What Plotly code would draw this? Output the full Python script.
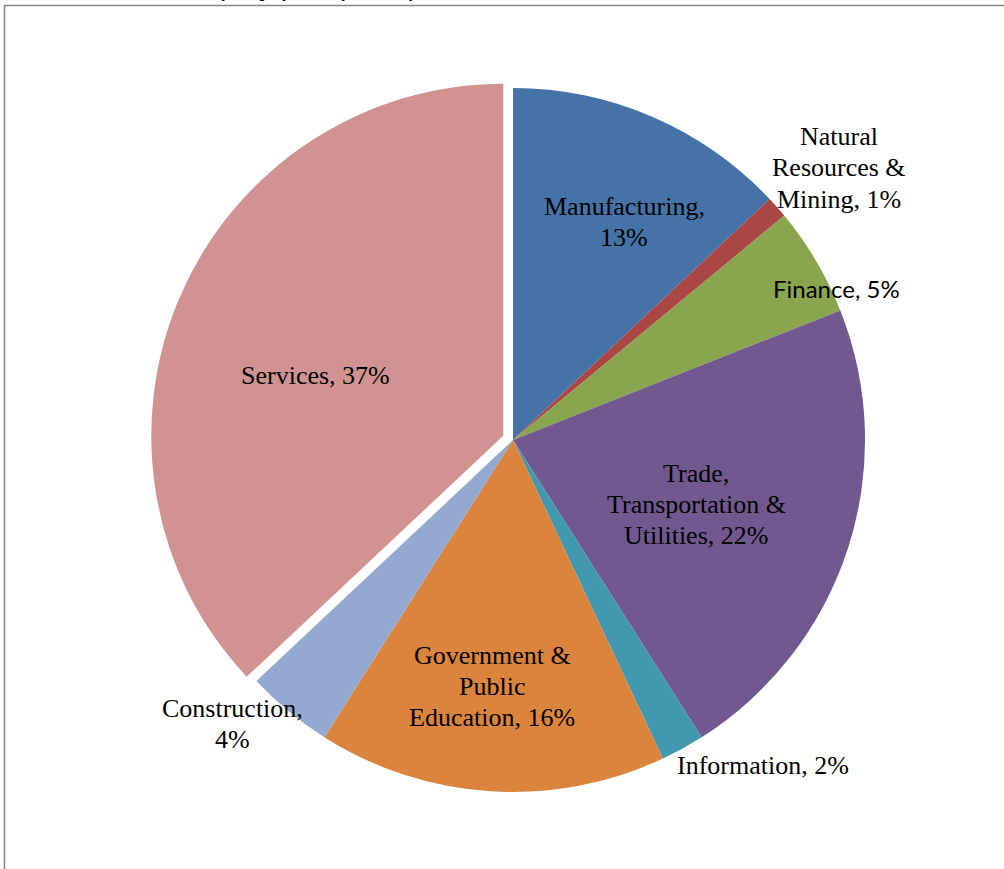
import plotly.graph_objects as go

categories = ["Manufacturing", "Natural Resources & Mining", "Finance",
              "Trade, Transportation & Utilities", "Information",
              "Government & Public Education", "Construction", "Services"]
values = [13, 1, 5, 22, 2, 16, 4, 37]
colors = ["#4572A7", "#AA4643", "#89A54E", "#71588F", "#4198AF",
          "#DB843D", "#93A9CF", "#D19392"]
pulls = [0, 0, 0, 0, 0, 0, 0, 0.03]

label_texts = ["Manufacturing,<br>13%", "Natural<br>Resources &<br>Mining, 1%",
               "Finance, 5%", "Trade,<br>Transportation &<br>Utilities, 22%",
               "Information, 2%", "Government &<br>Public<br>Education, 16%",
               "Construction,<br>4%", "Services, 37%"]
label_px = [(624, 222), (839, 168), (836, 288), (696, 504), (763, 765),
            (492, 686), (232, 724), (315, 376)]
label_fonts = ["Liberation Serif", "Liberation Serif", "Lato", "Liberation Serif",
               "Liberation Serif", "Liberation Serif", "Liberation Serif", "Liberation Serif"]

W, H = 1004, 869
LINE_GAP = 31

fig = go.Figure(go.Pie(
    labels=categories, values=values, sort=False, direction="clockwise",
    rotation=0, pull=pulls, marker=dict(colors=colors, line=dict(width=0)),
    textinfo="none", hoverinfo="label+percent",
    domain=dict(x=[150.4 / W, 875.6 / W], y=[66.4 / H, 791.6 / H]),
))

annotations = []
for txt, (px, py), fnt in zip(label_texts, label_px, label_fonts):
    lines = txt.split("<br>")
    n = len(lines)
    for i, line in enumerate(lines):
        ly = py + (i - (n - 1) / 2) * LINE_GAP
        annotations.append(dict(
            x=px / W, y=1 - ly / H, xref="paper", yref="paper", text=line,
            showarrow=False, xanchor="center", yanchor="middle",
            font=dict(family=fnt, size=26 if fnt != "Lato" else 24, color="black"),
        ))
# partially visible chart title (cut off at top)
annotations.append(dict(
    x=298 / W, y=1 + 9 / H, xref="paper", yref="paper",
    text="<b>County Employment by Industry,</b>", showarrow=False,
    xanchor="center", yanchor="middle",
    font=dict(family="Liberation Serif", size=17, color="black"),
))

fig.update_layout(
    width=W, height=H, margin=dict(l=0, r=0, t=0, b=0),
    paper_bgcolor="white", plot_bgcolor="white", showlegend=False,
    annotations=annotations,
    shapes=[dict(type="rect", xref="paper", yref="paper",
                 x0=4.5 / W, x1=1.05, y0=-0.05, y1=1 - 5.5 / H,
                 line=dict(color="#868686", width=1.5), fillcolor="rgba(0,0,0,0)")],
)

fig.write_html("out.html")
